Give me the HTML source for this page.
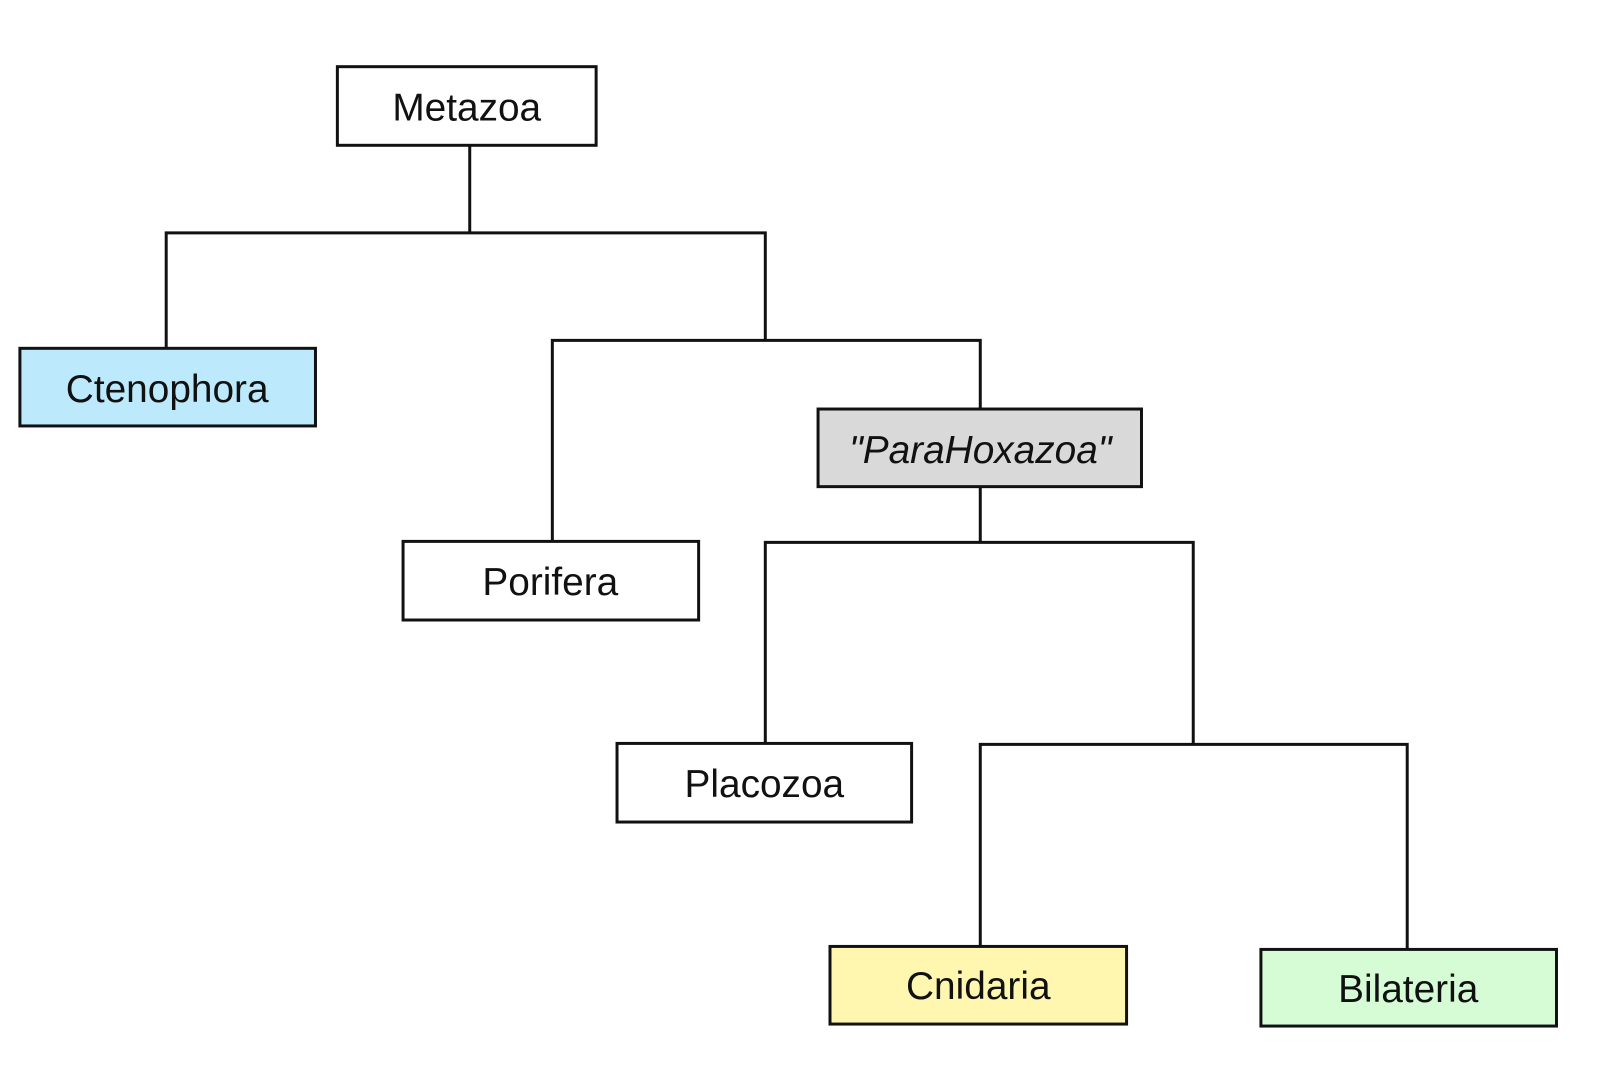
<!DOCTYPE html>
<html><head><meta charset="utf-8"><style>
html,body{margin:0;padding:0;background:#fff;}
body{width:1600px;height:1067px;overflow:hidden;}
svg text{font-family:"Liberation Sans",sans-serif;font-size:39px;fill:#111;}
</style></head><body>
<svg width="1600" height="1067" viewBox="0 0 1600 1067" xmlns="http://www.w3.org/2000/svg">
<g transform="scale(0.9952)">
<g stroke="#111" stroke-width="3" fill="none" stroke-linecap="square">
<path d="M472 146 V234 M167 234 H769 M167 234 V350 M769 234 V342 M555 342 H985 M555 342 V544 M985 342 V412"/>
<path d="M985 488 V545 M769 545 H1199 M769 545 V747 M1199 545 V748 M985 748 H1414 M985 748 V951 M1414 748 V954"/>
</g>
<g stroke="#111" stroke-width="3">
<rect x="339" y="67" width="260" height="79" fill="#fff"/>
<rect x="20" y="350" width="297" height="78" fill="#bde9fc"/>
<rect x="405" y="544" width="297" height="79" fill="#fff"/>
<rect x="822" y="411" width="325" height="78" fill="#d9d9d9"/>
<rect x="620" y="747" width="296" height="79" fill="#fff"/>
<rect x="834" y="951" width="298" height="78" fill="#fff7b0"/>
<rect x="1267" y="954" width="297" height="77" fill="#d6fcd6"/>
</g>
<g text-anchor="middle">
<text x="469" y="121">Metazoa</text>
<text x="168" y="404">Ctenophora</text>
<text x="553" y="598">Porifera</text>
<text x="985" y="465" font-style="italic">"ParaHoxazoa"</text>
<text x="768" y="801">Placozoa</text>
<text x="983" y="1004">Cnidaria</text>
<text x="1415" y="1007">Bilateria</text>
</g>
</g>
</svg>
</body></html>
